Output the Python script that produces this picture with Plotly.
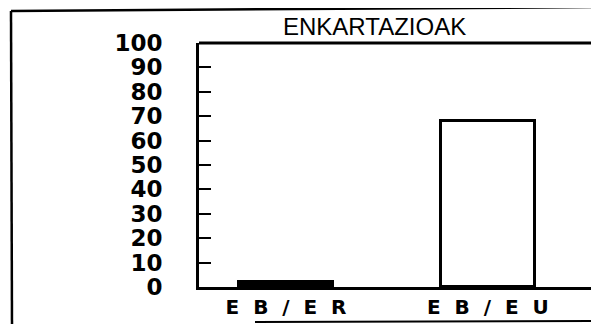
import plotly.graph_objects as go

# valeurs
categories = ['EB/ER', 'EB/EU']
values = [2, 68]
bar_colors = ['black', 'white']
y_ticks = [0, 10, 20, 30, 40, 50, 60, 70, 80, 90, 100]
title = 'ENKARTAZIOAK'

# la page ajoute une marge de 8 px autour du graphique
OFF = 8
W, H = 599 - OFF, 324 - OFF
L, R, T, B = 199 - OFF, 0, 43 - OFF, 324 - 287
plot_w = W - L - R
plot_h = H - T - B


def px_x(x):
    # pixel de l'image -> coordonnées paper
    return (x - OFF - L) / plot_w


def px_y(y):
    return (T + plot_h - (y - OFF)) / plot_h


NB = '\u00a0'
tick_text = [(NB * 2).join(c) for c in categories]

fig = go.Figure()
fig.add_trace(go.Bar(
    x=[0, 1], y=values, width=0.465,
    marker=dict(color=bar_colors, line=dict(color='black', width=3)),
    showlegend=False))

# cadre et bordures
shapes = [
    dict(type='line', xref='paper', yref='paper', x0=0, x1=1.01, y0=1, y1=1,
         line=dict(color='black', width=3)),
    dict(type='line', xref='paper', yref='paper', x0=px_x(11), x1=1.01,
         y0=px_y(11), y1=px_y(7), line=dict(color='black', width=2.5)),
    dict(type='line', xref='paper', yref='paper', x0=px_x(11), x1=px_x(12),
         y0=px_y(11), y1=px_y(330), line=dict(color='black', width=2.5)),
    dict(type='line', xref='paper', yref='paper', x0=px_x(255), x1=1.01,
         y0=px_y(322), y1=px_y(321), line=dict(color='black', width=2)),
]

fig.update_layout(
    width=W, height=H,
    margin=dict(l=L, r=R, t=T, b=B, pad=0),
    paper_bgcolor='white', plot_bgcolor='white',
    shapes=shapes,
    bargap=0,
    annotations=[dict(text=title, xref='paper', yref='paper',
                      x=px_x(374), y=px_y(27), xanchor='center', yanchor='middle',
                      showarrow=False,
                      font=dict(family='Liberation Sans', size=24, color='black'))],
    xaxis=dict(range=[-0.431, 1.55], tickvals=[0, 1], ticktext=tick_text,
               showgrid=False, zeroline=False, showline=True,
               linecolor='black', linewidth=3, ticks='',
               tickfont=dict(family='DejaVu Sans', size=20, color='black',
                             weight='bold')),
    yaxis=dict(range=[0, 100], tickvals=y_ticks,
               showgrid=False, zeroline=False, showline=True,
               linecolor='black', linewidth=3,
               ticks='inside', ticklen=12, tickwidth=2, tickcolor='black',
               ticklabelstandoff=29,
               tickfont=dict(family='DejaVu Sans', size=23, color='black',
                             weight='bold')),
)

fig.write_html('out.html')
